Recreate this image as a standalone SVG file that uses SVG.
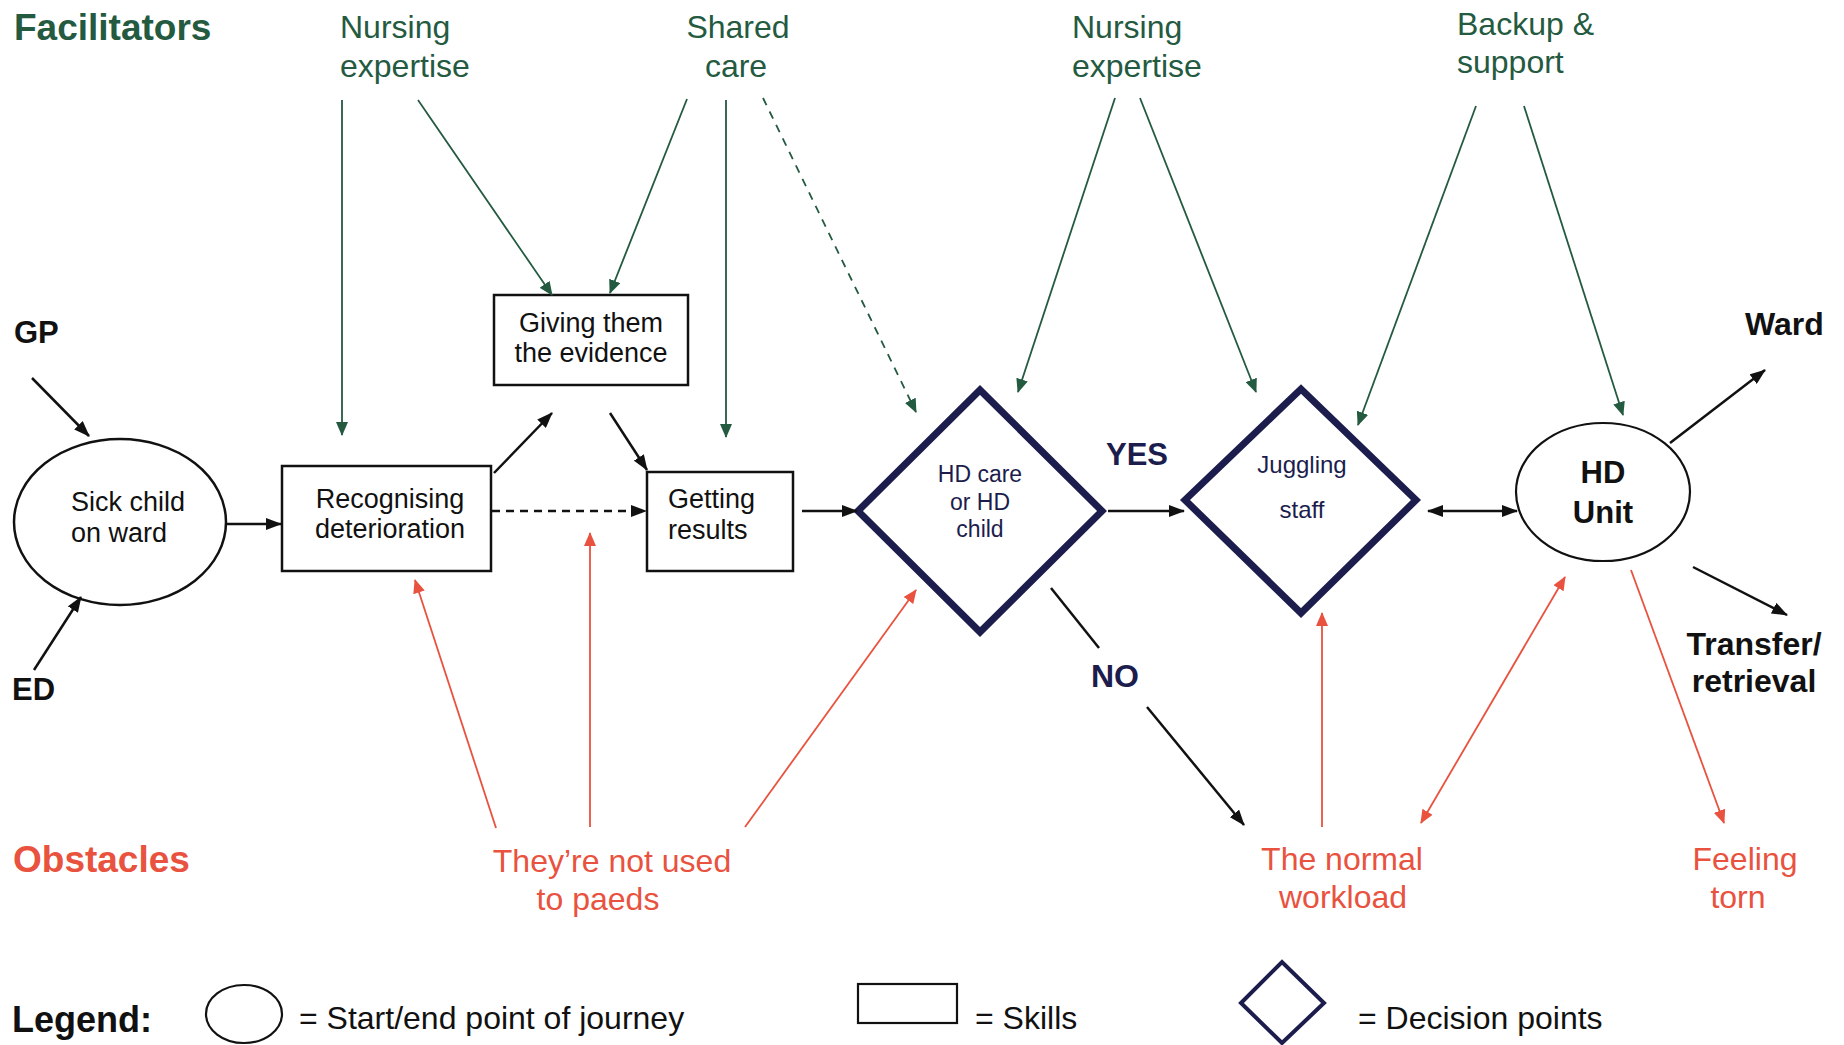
<svg xmlns="http://www.w3.org/2000/svg" width="1844" height="1045" viewBox="0 0 1844 1045">
<style>
text{font-family:"Liberation Sans",Arial,sans-serif}
.g{fill:#245a3f;font-size:32px}
.r{fill:#e8523e;font-size:32px}
.hb{font-weight:bold}
.k{fill:#111}
.nt{font-size:27px;fill:#111}
.nv{fill:#1c1d4d}
.box{fill:#fff;stroke:#111;stroke-width:2.5}
.dia{fill:#fff;stroke:#1c1d4d;stroke-width:7;stroke-linejoin:miter}
.ck{stroke:#111;stroke-width:2.5;fill:none}
.cg{stroke:#245a3f;stroke-width:1.8;fill:none}
.cr{stroke:#e8523e;stroke-width:1.8;fill:none}
</style>
<defs>
<marker id="ak" markerUnits="userSpaceOnUse" markerWidth="16" markerHeight="12" refX="15" refY="6" orient="auto-start-reverse"><path d="M0,0 L16,6 L0,12 z" fill="#111"/></marker>
<marker id="ag" markerUnits="userSpaceOnUse" markerWidth="14" markerHeight="12" refX="13" refY="6" orient="auto-start-reverse"><path d="M0,0 L14,6 L0,12 z" fill="#245a3f"/></marker>
<marker id="ar" markerUnits="userSpaceOnUse" markerWidth="14" markerHeight="12" refX="13" refY="6" orient="auto-start-reverse"><path d="M0,0 L14,6 L0,12 z" fill="#e8523e"/></marker>
</defs>
<rect width="1844" height="1045" fill="#fff"/>

<g id="headers">
<text x="14" y="40" class="g hb" style="font-size:37px">Facilitators</text>
<text x="13" y="872" class="r hb" style="font-size:37px">Obstacles</text>
</g>

<g id="fac-nursing1"><text x="340" y="38" class="g">Nursing</text><text x="340" y="77" class="g">expertise</text></g>
<g id="fac-shared"><text x="738" y="38" class="g" text-anchor="middle">Shared</text><text x="736" y="77" class="g" text-anchor="middle">care</text></g>
<g id="fac-nursing2"><text x="1072" y="38" class="g">Nursing</text><text x="1072" y="77" class="g">expertise</text></g>
<g id="fac-backup"><text x="1457" y="35" class="g">Backup &amp;</text><text x="1457" y="73" class="g">support</text></g>

<g id="gp"><text x="14" y="343" class="k hb" style="font-size:31px">GP</text></g>
<g id="ed"><text x="12" y="700" class="k hb" style="font-size:31px">ED</text></g>

<g id="sick-child">
<ellipse cx="120" cy="522" rx="106" ry="83" fill="#fff" stroke="#111" stroke-width="2.5"/>
<text x="71" y="511" class="nt">Sick child</text>
<text x="71" y="542" class="nt">on ward</text>
</g>

<g id="recognising">
<rect x="282" y="466" width="209" height="105" class="box"/>
<text x="390" y="508" class="nt" text-anchor="middle">Recognising</text>
<text x="390" y="538" class="nt" text-anchor="middle">deterioration</text>
</g>

<g id="giving">
<rect x="494" y="295" width="194" height="90" class="box"/>
<text x="591" y="332" class="nt" text-anchor="middle">Giving them</text>
<text x="591" y="362" class="nt" text-anchor="middle">the evidence</text>
</g>

<g id="getting">
<rect x="647" y="472" width="146" height="99" class="box"/>
<text x="668" y="508" class="nt">Getting</text>
<text x="668" y="539" class="nt">results</text>
</g>

<g id="hd-care">
<polygon points="858,511 980,390 1102,511 980,632" class="dia"/>
<text x="980" y="482" class="nv" font-size="23" text-anchor="middle">HD care</text>
<text x="980" y="510" class="nv" font-size="23" text-anchor="middle">or HD</text>
<text x="980" y="537" class="nv" font-size="23" text-anchor="middle">child</text>
</g>

<g id="yes"><text x="1106" y="465" class="nv hb" font-size="31">YES</text></g>
<g id="no"><text x="1091" y="687" class="nv hb" font-size="32">NO</text></g>

<g id="juggling">
<polygon points="1185,500 1301,389 1416,500 1301,613" class="dia"/>
<text x="1302" y="473" class="nv" font-size="24" text-anchor="middle">Juggling</text>
<text x="1302" y="518" class="nv" font-size="24" text-anchor="middle">staff</text>
</g>

<g id="hd-unit">
<ellipse cx="1603" cy="492" rx="87" ry="69" fill="#fff" stroke="#111" stroke-width="2.2"/>
<text x="1603" y="483" class="k hb" font-size="31" text-anchor="middle">HD</text>
<text x="1603" y="523" class="k hb" font-size="31" text-anchor="middle">Unit</text>
</g>

<g id="ward"><text x="1745" y="335" class="k hb" font-size="32">Ward</text></g>
<g id="transfer"><text x="1754" y="655" class="k hb" font-size="32" text-anchor="middle">Transfer/</text><text x="1754" y="692" class="k hb" font-size="32" text-anchor="middle">retrieval</text></g>

<g id="obs-paeds"><text x="612" y="872" class="r" text-anchor="middle">They’re not used</text><text x="598" y="910" class="r" text-anchor="middle">to paeds</text></g>
<g id="obs-workload"><text x="1342" y="870" class="r" text-anchor="middle">The normal</text><text x="1343" y="908" class="r" text-anchor="middle">workload</text></g>
<g id="obs-torn"><text x="1745" y="870" class="r" text-anchor="middle">Feeling</text><text x="1738" y="908" class="r" text-anchor="middle">torn</text></g>

<g id="connectors">
<line x1="32" y1="378" x2="89" y2="436" class="ck" marker-end="url(#ak)"/>
<line x1="34" y1="670" x2="81" y2="597" class="ck" marker-end="url(#ak)"/>
<line x1="226" y1="524" x2="281" y2="524" class="ck" marker-end="url(#ak)"/>
<line x1="494" y1="473" x2="552" y2="413" class="ck" marker-end="url(#ak)"/>
<line x1="610" y1="413" x2="647" y2="470" class="ck" marker-end="url(#ak)"/>
<line x1="492" y1="511" x2="646" y2="511" class="ck" stroke-dasharray="8,6" marker-end="url(#ak)"/>
<line x1="802" y1="511" x2="857" y2="511" class="ck" marker-end="url(#ak)"/>
<line x1="1108" y1="511" x2="1184" y2="511" class="ck" marker-end="url(#ak)"/>
<line x1="1428" y1="511" x2="1517" y2="511" class="ck" marker-start="url(#ak)" marker-end="url(#ak)"/>
<line x1="1670" y1="443" x2="1765" y2="370" class="ck" marker-end="url(#ak)"/>
<line x1="1693" y1="567" x2="1787" y2="615" class="ck" marker-end="url(#ak)"/>
<line x1="1051" y1="588" x2="1099" y2="648" class="ck"/>
<line x1="1147" y1="707" x2="1244" y2="825" class="ck" marker-end="url(#ak)"/>

<line x1="342" y1="100" x2="342" y2="435" class="cg" marker-end="url(#ag)"/>
<line x1="418" y1="100" x2="552" y2="295" class="cg" marker-end="url(#ag)"/>
<line x1="687" y1="99" x2="610" y2="293" class="cg" marker-end="url(#ag)"/>
<line x1="726" y1="100" x2="726" y2="437" class="cg" marker-end="url(#ag)"/>
<line x1="763" y1="98" x2="916" y2="412" class="cg" stroke-dasharray="8,7" marker-end="url(#ag)"/>
<line x1="1115" y1="98" x2="1018" y2="392" class="cg" marker-end="url(#ag)"/>
<line x1="1140" y1="98" x2="1256" y2="392" class="cg" marker-end="url(#ag)"/>
<line x1="1476" y1="106" x2="1358" y2="425" class="cg" marker-end="url(#ag)"/>
<line x1="1524" y1="106" x2="1623" y2="415" class="cg" marker-end="url(#ag)"/>

<line x1="496" y1="828" x2="415" y2="580" class="cr" marker-end="url(#ar)"/>
<line x1="590" y1="827" x2="590" y2="533" class="cr" marker-end="url(#ar)"/>
<line x1="745" y1="827" x2="916" y2="590" class="cr" marker-end="url(#ar)"/>
<line x1="1322" y1="827" x2="1322" y2="613" class="cr" marker-end="url(#ar)"/>
<line x1="1421" y1="823" x2="1565" y2="577" class="cr" marker-start="url(#ar)" marker-end="url(#ar)"/>
<line x1="1631" y1="570" x2="1724" y2="823" class="cr" marker-end="url(#ar)"/>
</g>

<g id="legend">
<text x="12" y="1032" class="k hb" font-size="36">Legend:</text>
<ellipse cx="244" cy="1014" rx="38" ry="29" fill="#fff" stroke="#111" stroke-width="2.2"/>
<text x="299" y="1029" class="k" font-size="32">= Start/end point of journey</text>
<rect x="858" y="984" width="99" height="39" fill="#fff" stroke="#111" stroke-width="2.2"/>
<text x="975" y="1029" class="k" font-size="32">= Skills</text>
<polygon points="1241,1003 1282,962 1324,1003 1282,1043" fill="#fff" stroke="#1c1d4d" stroke-width="4"/>
<text x="1358" y="1029" class="k" font-size="32">= Decision points</text>
</g>
</svg>
